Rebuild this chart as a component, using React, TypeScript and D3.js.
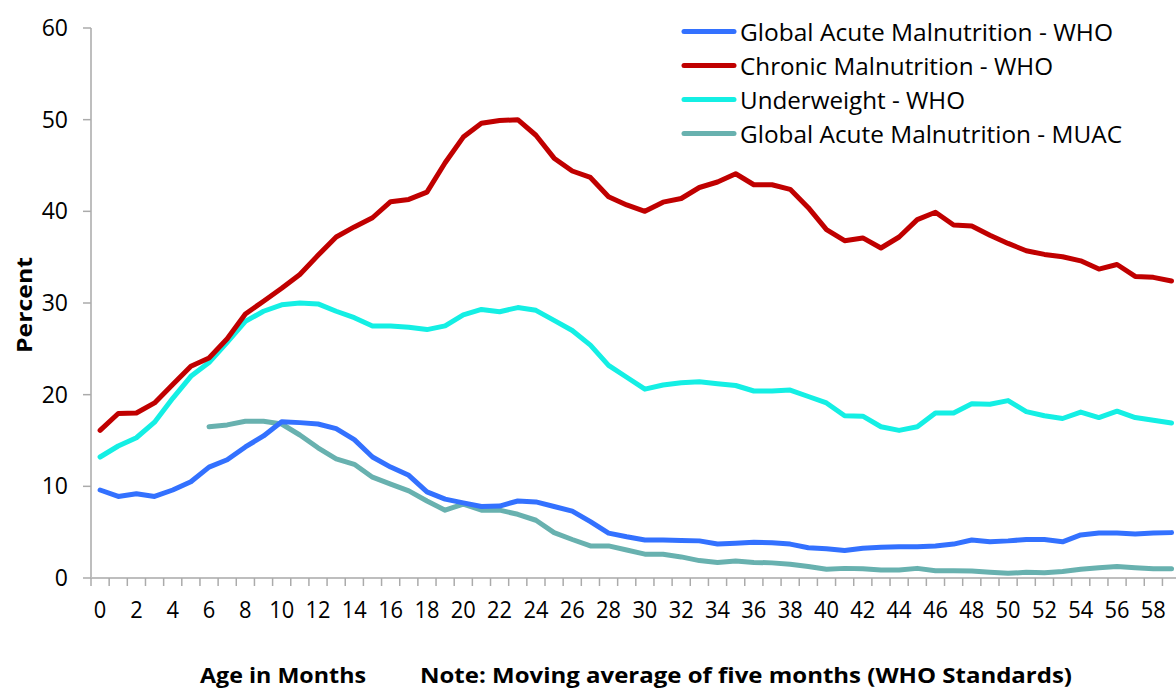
import React from "react";
import * as d3 from "d3";

const months: number[] = Array.from({ length: 60 }, (_, i) => i);

const gamWho: number[] = [
  9.6, 8.9, 9.2, 8.9, 9.6, 10.5, 12.1, 12.9, 14.3, 15.5,
  17.05, 16.95, 16.8, 16.3, 15.1, 13.2, 12.1, 11.2, 9.4, 8.6,
  8.2, 7.8, 7.85, 8.4, 8.3, 7.8, 7.3, 6.15, 4.9, 4.5,
  4.15, 4.15, 4.1, 4.05, 3.7, 3.8, 3.9, 3.85, 3.7, 3.3,
  3.2, 3.0, 3.25, 3.35, 3.4, 3.4, 3.5, 3.7, 4.15, 3.95,
  4.05, 4.2, 4.2, 3.95, 4.7, 4.9, 4.9, 4.8, 4.9, 4.95,
];

const chronicWho: number[] = [
  16.1, 17.95, 18.0, 19.1, 21.1, 23.1, 24.0, 26.1, 28.8, 30.2,
  31.6, 33.1, 35.2, 37.2, 38.3, 39.3, 41.05, 41.3, 42.1, 45.3,
  48.1, 49.6, 49.9, 50.0, 48.3, 45.8, 44.4, 43.7, 41.6, 40.7,
  40.0, 41.0, 41.4, 42.6, 43.2, 44.1, 42.9, 42.9, 42.4, 40.4,
  38.0, 36.8, 37.1, 36.0, 37.2, 39.1, 39.9, 38.5, 38.4, 37.4,
  36.5, 35.7, 35.3, 35.05, 34.6, 33.7, 34.2, 32.9, 32.8, 32.4,
];

const underweightWho: number[] = [
  13.2, 14.4, 15.3, 17.0, 19.6, 22.0, 23.5, 25.7, 28.0, 29.1,
  29.8, 30.0, 29.9, 29.1, 28.4, 27.5, 27.5, 27.35, 27.1, 27.5,
  28.7, 29.3, 29.05, 29.5, 29.2, 28.1, 27.0, 25.4, 23.2, 21.9,
  20.6, 21.05, 21.3, 21.4, 21.2, 21.0, 20.4, 20.4, 20.5, 19.8,
  19.1, 17.7, 17.65, 16.5, 16.1, 16.5, 18.0, 18.0, 19.0, 18.95,
  19.35, 18.15, 17.7, 17.4, 18.1, 17.5, 18.2, 17.5, 17.2, 16.9,
];

const gamMuac: (number | null)[] = [
  null, null, null, null, null, null, 16.5, 16.7, 17.1, 17.1,
  16.8, 15.6, 14.2, 13.0, 12.4, 11.0, 10.25, 9.5, 8.4, 7.4,
  8.07, 7.4, 7.4, 6.95, 6.3, 4.95, 4.2, 3.5, 3.5, 3.05,
  2.6, 2.6, 2.3, 1.9, 1.7, 1.85, 1.7, 1.65, 1.5, 1.25,
  0.95, 1.05, 1.0, 0.87, 0.87, 1.05, 0.8, 0.8, 0.76, 0.62,
  0.51, 0.62, 0.58, 0.7, 0.95, 1.13, 1.25, 1.13, 1.0, 1.0,
];

const yTicks: number[] = [0, 10, 20, 30, 40, 50, 60];

const seriesNames: string[] = [
  "Global Acute Malnutrition - WHO",
  "Chronic Malnutrition - WHO",
  "Underweight - WHO",
  "Global Acute Malnutrition - MUAC",
];
const seriesColors: string[] = ["#3371FF", "#C00000", "#14EFE4", "#68B1AF"];
const legendWidths: number[] = [373, 313, 225, 382];

const W = 1176;
const H = 688;
const X0 = 91;
const STEP = 18.16;
const Y0 = 578;
const Y1 = 28;
const NUM_FONT = "'Open Sans', 'DejaVu Sans', sans-serif";

export default function App() {
  const x = d3
    .scaleBand<number>()
    .domain(months)
    .range([X0, X0 + STEP * months.length])
    .padding(0);
  const y = d3.scaleLinear().domain([0, 60]).range([Y0, Y1]);
  const cx = (i: number) => (x(i) as number) + x.bandwidth() / 2;

  const line = d3
    .line<number | null>()
    .defined((d) => d !== null)
    .x((_, i) => cx(i))
    .y((d) => y(d as number));

  const allSeries: (number | null)[][] = [gamWho, chronicWho, underweightWho, gamMuac];
  const drawOrder = [3, 2, 1, 0];

  return (
    <svg
      width={W}
      height={H}
      style={{ position: "absolute", left: 0, top: 0, background: "#fff" }}
    >
      {/* y axis */}
      <line x1={X0} x2={X0} y1={Y1} y2={Y0} stroke="#BEBEBE" strokeWidth={2} />
      {yTicks.map((t) => (
        <g key={"y" + t}>
          <line x1={X0 - 8} x2={X0} y1={y(t)} y2={y(t)} stroke="#ABABAB" strokeWidth={1.5} />
          <text
            x={68}
            y={y(t) + 8}
            textAnchor="end"
            fontFamily={NUM_FONT}
            fontSize={23}
            fill="#000"
          >
            {t}
          </text>
        </g>
      ))}
      {/* x axis */}
      <line x1={X0} x2={X0 + STEP * months.length} y1={Y0} y2={Y0} stroke="#BEBEBE" strokeWidth={2} />
      {months.map((m) => (
        <line
          key={"xt" + m}
          x1={x(m) as number}
          x2={x(m) as number}
          y1={Y0}
          y2={Y0 + 8}
          stroke="#ABABAB"
          strokeWidth={1.5}
        />
      ))}
      {months
        .filter((m) => m % 2 === 0)
        .map((m) => (
          <text
            key={"xl" + m}
            x={cx(m)}
            y={618}
            textAnchor="middle"
            fontFamily={NUM_FONT}
            fontSize={23}
            fill="#000"
            textLength={String(m).length * 12.5}
            lengthAdjust="spacingAndGlyphs"
          >
            {m}
          </text>
        ))}

      {/* series */}
      {drawOrder.map((k) => (
        <path
          key={"s" + k}
          d={line(allSeries[k]) || ""}
          fill="none"
          stroke={seriesColors[k]}
          strokeWidth={5}
          strokeLinejoin="round"
          strokeLinecap="round"
        />
      ))}

      {/* legend */}
      {seriesNames.map((n, k) => {
        const ly = 31.5 + k * 34;
        return (
          <g key={"lg" + k}>
            <line x1={684} x2={734} y1={ly} y2={ly} stroke={seriesColors[k]} strokeWidth={5} strokeLinecap="round" />
            <text
              x={740}
              y={ly + 9}
              fontFamily={NUM_FONT}
              fontSize={24}
              fill="#000"
              textLength={legendWidths[k]}
              lengthAdjust="spacingAndGlyphs"
            >
              {n}
            </text>
          </g>
        );
      })}

      {/* axis titles */}
      <text
        transform="translate(32,305) rotate(-90)"
        textAnchor="middle"
        fontFamily={NUM_FONT}
        fontWeight="bold"
        fontSize={21}
        fill="#000"
        textLength={96}
        lengthAdjust="spacingAndGlyphs"
      >
        Percent
      </text>
      <text
        x={200}
        y={683}
        fontFamily={NUM_FONT}
        fontWeight="bold"
        fontSize={21}
        fill="#000"
        textLength={166}
        lengthAdjust="spacingAndGlyphs"
      >
        Age in Months
      </text>
      <text
        x={420}
        y={683}
        fontFamily={NUM_FONT}
        fontWeight="bold"
        fontSize={21}
        fill="#000"
        textLength={652}
        lengthAdjust="spacingAndGlyphs"
      >
        Note: Moving average of five months  (WHO Standards)
      </text>
    </svg>
  );
}
